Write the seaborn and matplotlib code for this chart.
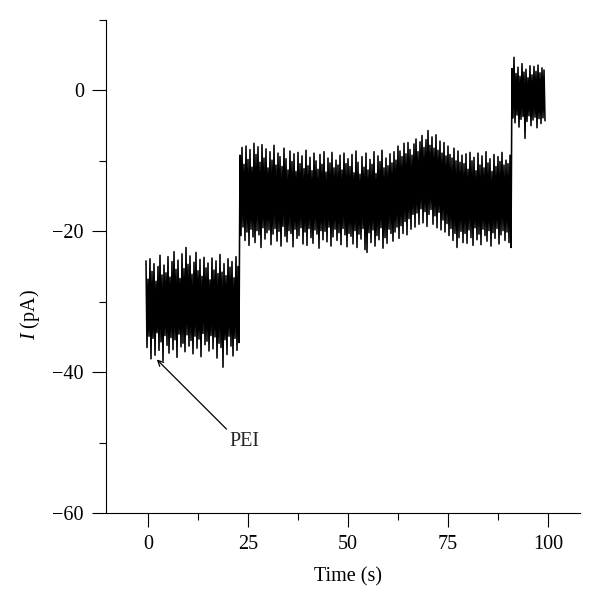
import numpy as np
import pandas as pd
import matplotlib
matplotlib.use("Agg")
import matplotlib.pyplot as plt
from matplotlib.ticker import MultipleLocator
import seaborn as sns

# ---- data (alternating peak / trough samples) ----
dt = 0.25          # sampling interval (s)
t_start = -0.5     # time of first sample (s)

seg_pei_free = [  # before PEI, ~0-23 s
    -24.2, -36.5, -26.8, -34.9, -23.9, -38.1, -25.7, -35.2, -24.6, -37.6,
    -27.1, -34.4, -25.0, -36.9, -23.4, -35.7, -26.2, -38.4, -24.8, -34.8,
    -25.9, -36.2, -23.6, -37.3, -26.5, -35.1, -24.3, -36.8, -22.9, -35.4,
    -25.4, -37.9, -24.1, -34.6, -26.7, -36.4, -23.2, -35.9, -25.3, -37.1,
    -22.3, -34.7, -24.7, -36.3, -23.5, -35.5, -26.1, -37.4, -24.4, -34.9,
    -23.0, -36.6, -25.6, -35.3, -24.0, -37.8, -26.4, -34.5, -23.7, -36.1,
    -25.2, -35.6, -24.5, -37.0, -26.9, -34.8, -23.8, -36.7, -25.5, -35.0,
    -24.2, -38.0, -26.0, -35.9, -23.3, -36.5, -25.8, -39.3, -24.6, -35.4,
    -26.3, -37.5, -23.9, -34.9, -25.1, -36.3, -24.3, -37.7, -26.6, -35.2,
    -23.6, -36.9, -25.0, -35.8,
]

seg_pei = [  # after PEI, ~23-91 s
    -9.2, -20.6, -8.1, -19.4, -10.5, -21.3, -7.9, -20.1, -9.8, -22.0,
    -8.4, -19.7, -10.9, -20.8, -7.5, -21.6, -9.1, -19.9, -8.0, -20.5,
    -10.2, -22.3, -7.7, -19.5, -9.6, -21.1, -8.3, -20.2, -11.0, -19.8,
    -8.7, -21.9, -9.9, -20.4, -7.8, -19.6, -10.6, -21.4, -8.9, -20.0,
    -9.4, -22.1, -10.8, -19.3, -8.2, -20.7, -9.7, -21.5, -11.3, -19.9,
    -8.6, -20.3, -10.1, -22.2, -9.0, -19.7, -11.5, -21.0, -8.8, -20.6,
    -10.4, -19.5, -9.3, -21.8, -11.1, -20.1, -8.5, -22.0, -10.7, -19.6,
    -9.5, -20.9, -11.4, -21.7, -8.9, -19.8, -10.0, -20.4, -11.2, -22.4,
    -9.1, -19.9, -10.5, -21.2, -8.7, -20.0, -11.6, -21.5, -9.6, -19.4,
    -10.3, -22.1, -8.8, -20.8, -11.0, -19.7, -9.9, -21.3, -10.6, -20.2,
    -9.2, -21.9, -11.3, -19.6, -8.9, -20.5, -10.4, -22.2, -9.7, -20.3,
    -10.8, -20.7, -9.1, -21.8, -11.7, -19.9, -8.6, -22.3, -10.2, -20.4,
    -11.9, -21.1, -9.4, -19.6, -10.9, -22.6, -8.9, -23.0, -11.3, -20.2,
    -9.8, -21.6, -10.5, -19.8, -8.7, -22.1, -11.8, -20.6, -9.3, -21.2,
    -10.1, -19.5, -8.5, -22.4, -11.0, -20.9, -9.6, -21.7, -10.7, -19.7,
    -9.0, -20.3, -10.3, -21.4,
    -8.7, -20.1, -9.9, -19.4, -7.9, -21.0, -8.6, -19.2, -9.4, -20.3,
    -7.5, -18.6, -9.0, -20.5, -7.4, -18.2, -8.4, -19.7, -9.2, -17.6,
    -7.6, -19.4, -6.9, -17.4, -8.7, -19.0, -7.3, -16.8, -6.4, -18.8,
    -8.1, -17.2, -7.0, -19.3, -5.7, -17.6, -7.8, -16.9, -6.6, -19.0,
    -8.2, -17.8, -6.3, -19.5, -8.5, -17.3, -7.2, -19.8, -8.9, -18.4,
    -7.4, -20.1, -9.3, -18.9, -7.9, -20.6, -9.1, -19.6, -9.6, -21.3,
    -8.2, -20.3, -10.0, -22.3, -8.6, -20.9, -10.2, -20.0, -9.2, -21.6,
    -10.4, -20.3, -9.0, -21.7, -11.2, -19.8, -8.8, -20.9, -10.0, -22.0,
    -9.5, -19.5, -11.4, -21.2, -8.9, -20.4, -10.6, -21.9, -9.3, -19.7,
    -11.0, -20.6, -8.7, -21.4, -10.3, -19.9, -9.7, -22.1, -11.5, -20.2,
    -9.1, -21.0, -10.8, -19.6, -9.4, -21.8, -10.1, -20.5, -8.8, -19.9,
    -10.6, -21.3, -9.9, -20.1, -10.4, -21.6, -9.2, -22.3,
]

seg_final = [  # last step, ~91-99 s
    3.1, -3.9, 4.7, -4.6, 2.4, -3.5, 3.3, -5.2, 2.0, -4.1,
    3.8, -3.7, 2.6, -6.8, 3.0, -4.4, 1.8, -3.6, 3.5, -5.0,
    2.2, -4.2, 3.4, -3.8, 2.7, -5.3, 3.6, -4.0, 2.5, -4.7,
    3.2, -3.9, 2.9, -4.3,
]

current = np.array(seg_pei_free + seg_pei + seg_final)
time = t_start + dt * np.arange(current.size)
df = pd.DataFrame({"Time (s)": time, "I (pA)": current})

x_major_ticks = [0, 25, 50, 75, 100]
y_major_ticks = [-60, -40, -20, 0]
annot_label = "PEI"

# ---- figure ----
sns.set_style("ticks")
plt.rcParams["font.family"] = ["Liberation Serif", "DejaVu Serif"]
plt.rcParams["mathtext.fontset"] = "custom"
plt.rcParams["mathtext.it"] = "Liberation Serif:italic"
plt.rcParams["mathtext.rm"] = "Liberation Serif"

fig = plt.figure(figsize=(6.0, 6.09), dpi=100)
ax = fig.add_axes([106 / 600, 1 - 513 / 609, (580 - 106) / 600, (513 - 20) / 609])

sns.lineplot(data=df, x="Time (s)", y="I (pA)", ax=ax, color="black",
             linewidth=1.15, estimator=None, sort=False)

ax.set_xlim(-10.5, 108)
ax.set_ylim(-60, 10)
ax.set_xticks(x_major_ticks)
ax.set_yticks(y_major_ticks)
ax.xaxis.set_minor_locator(MultipleLocator(12.5))
ax.yaxis.set_minor_locator(MultipleLocator(10))
ax.tick_params(which="major", direction="out", length=10, width=0.8,
               labelsize=14.5, pad=6, color="black", labelcolor="black")
ax.tick_params(which="minor", direction="out", length=5, width=0.8, color="black")

for s in ["top", "right"]:
    ax.spines[s].set_visible(False)
for s in ["left", "bottom"]:
    ax.spines[s].set_linewidth(0.8)
    ax.spines[s].set_color("black")

ax.set_xlabel("Time (s)", fontsize=14.5, color="black")
ax.set_ylabel(r"$I$ (pA)", fontsize=14.5, color="black")
ax.xaxis.set_label_coords((348 - 106) / 474, -0.11)
ax.yaxis.set_label_coords(-0.135, (513 - 315) / 493)

ax.annotate(annot_label, xy=(2.2, -38.2), xytext=(24.2, -49.9),
            fontsize=14.5, ha="center", va="center",
            arrowprops=dict(arrowstyle="->", color="black", lw=0.9,
                            shrinkA=0, shrinkB=0, relpos=(0.0, 1.0),
                            mutation_scale=10))

fig.savefig("out.png", dpi=100)
